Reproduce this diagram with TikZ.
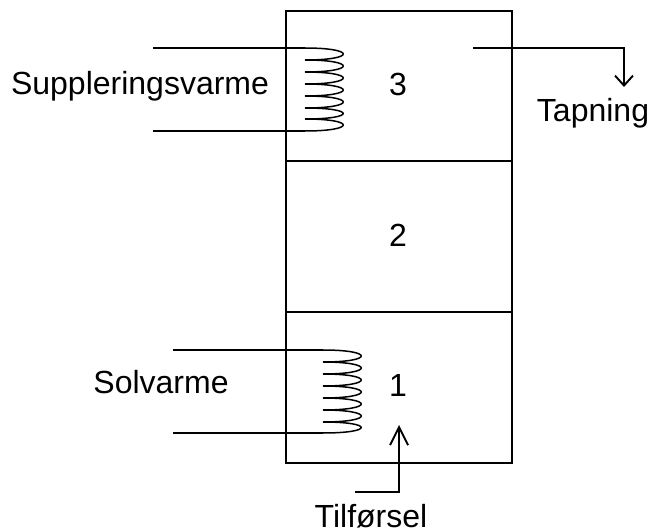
\documentclass[tikz,border=0pt]{standalone}
\usepackage{fontspec}
\setmainfont{Liberation Sans}
\usetikzlibrary{arrows.meta}
\tikzset{
  tank/.style={draw,minimum width=226pt,minimum height=151pt,inner sep=0pt,line width=1.9pt},
  pipe/.style={line width=1.9pt},
  winding/.style={line width=1.5pt},
  drawoff/.style={line width=1.9pt,-{Straight Barb[length=10pt,width=18pt,line width=1.9pt]}},
  inflow/.style={line width=1.9pt,-{Straight Barb[length=18pt,width=18pt,line width=1.9pt]}},
  lbl/.style={font=\fontsize{32}{36}\selectfont,inner sep=0pt,text=black,anchor=base},
}
\begin{document}
\begin{tikzpicture}[x=1pt,y=-1pt]
      \useasboundingbox (0,0) rectangle (651,529);
      % tanks
      \node[tank,minimum height=150pt] (tank3) at (399,86) {};
      \node[tank] (tank2) at (399,236.5) {};
      \node[tank] (tank1) at (399,387.5) {};
      \node[lbl] (num3) at (398,96) {3};
      \node[lbl] (num2) at (398,247) {2};
      \node[lbl] (num1) at (398,397) {1};
      % labels
      \node[lbl] (extra) at (140,95) {Suppleringsvarme};
      \node[lbl] (solar) at (161,394) {Solvarme};
      \node[lbl] (tap) at (593,122) {Tapning};
      \node[lbl] (feed) at (371,527.5) {Tilførsel};
      % upper coil
      \coordinate (extraA) at (153,48);
      \coordinate (extraB) at (305,48);
      \coordinate (extraC) at (153,131);
      \coordinate (extraD) at (305,131);
      \draw[pipe] (extraA) -- (extraB);
      \draw[pipe] (extraC) -- (extraD);
      \foreach \y/\z in {48/60,60/72,72/84,84/96,96/108,108/119,119/131}
        \draw[winding] (305,\y) .. controls (356,\y) and (356,\z) .. (305,\z);
      % lower coil
      \coordinate (solarA) at (173,350);
      \coordinate (solarB) at (323,350);
      \coordinate (solarC) at (173,433);
      \coordinate (solarD) at (323,433);
      \draw[pipe] (solarA) -- (solarB);
      \draw[pipe] (solarC) -- (solarD);
      \foreach \y/\z in {350/362,362/374,374/386,386/398,398/410,410/422,422/433}
        \draw[winding] (323,\y) .. controls (374,\y) and (374,\z) .. (323,\z);
      % tapping and feed
      \coordinate (tapA) at (473,48);
      \coordinate (tapB) at (624,87);
      \coordinate (feedA) at (355,492);
      \coordinate (feedB) at (399,425);
      \draw[drawoff] (tapA) -| (tapB);
      \draw[inflow] (feedA) -| (feedB);
    \end{tikzpicture}
\end{document}
